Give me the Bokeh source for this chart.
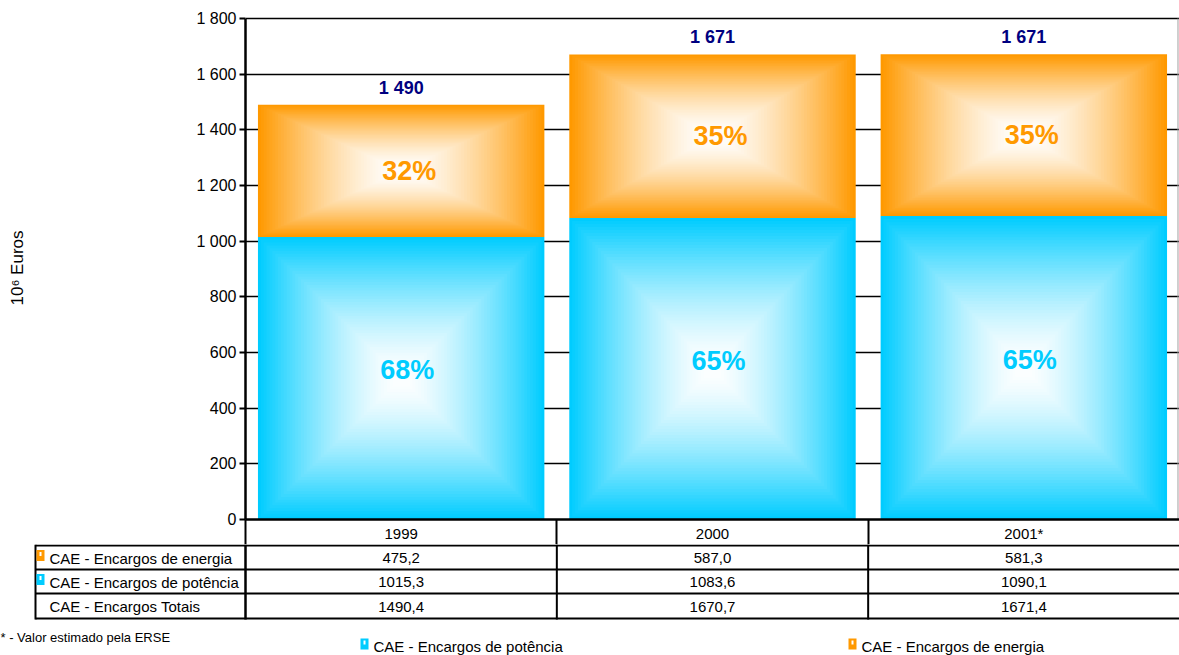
import numpy as np
from bokeh.plotting import figure
from bokeh.models import Range1d, FixedTicker, ColumnDataSource
from bokeh.core.properties import value
from bokeh.embed import file_html
from bokeh.resources import INLINE

# ---------------- data ----------------
years = ["1999", "2000", "2001*"]
energia = [475.2, 587.0, 581.3]
potencia = [1015.3, 1083.6, 1090.1]
totais = [1490.4, 1670.7, 1671.4]
y_ticks = [0, 200, 400, 600, 800, 1000, 1200, 1400, 1600, 1800]
row_labels = ["CAE - Encargos de energia", "CAE - Encargos de potência", "CAE - Encargos Totais"]
legend_labels = ["CAE - Encargos de potência", "CAE - Encargos de energia"]
footnote = "* - Valor estimado pela ERSE"
y_axis_title = "10\u2076 Euros"

# ---------------- style / geometry ----------------
W = 1179
H_MAIN = 544
H_TBL = 655 - H_MAIN
FL = 245                 # frame left (px)
Y0_PX, Y1800_PX = 519, 18
FT = 16
Y_END = 1800.0 * (Y0_PX - FT) / (Y0_PX - Y1800_PX)
HDR = H_MAIN - Y0_PX     # header-row height below the x axis

ORANGE = "#FF9900"
CYAN = "#00CCFF"
NAVY = "#000080"
FONT = "Liberation Sans"
BAR_W = 0.92
N_STEPS = 50

p = figure(width=W, height=H_MAIN,
           x_range=Range1d(0, 3), y_range=Range1d(0, Y_END),
           min_border_left=FL, min_border_right=0, min_border_top=FT,
           min_border_bottom=HDR,
           output_backend="svg", toolbar_location=None)
p.outline_line_color = None
p.background_fill_color = "white"
p.border_fill_color = "white"

# y axis
ay = p.yaxis[0]
ay.ticker = FixedTicker(ticks=y_ticks)
ay.major_label_overrides = {t: f"{t:,}".replace(",", " ") for t in y_ticks}
ay.bounds = (0, 1800)
ay.axis_line_width = 2.5
ay.axis_line_color = "black"
ay.major_tick_out = 6
ay.major_tick_in = 0
ay.major_tick_line_width = 2
ay.minor_tick_line_color = None
ay.major_label_text_font = FONT
ay.major_label_text_font_size = "16px"
ay.major_label_text_color = "black"
ay.major_label_standoff = 3
ay.axis_label = y_axis_title
ay.axis_label_text_font = FONT
ay.axis_label_text_font_style = "normal"
ay.axis_label_text_font_size = "17px"
ay.axis_label_text_color = "black"
ay.axis_label_standoff = 166

# x axis: year labels = table header row, minor ticks = column borders
ax = p.xaxis[0]
centers = [i + 0.5 for i in range(len(years))]
ax.ticker = FixedTicker(ticks=centers, minor_ticks=list(range(len(years))))
ax.major_label_overrides = {c: y for c, y in zip(centers, years)}
ax.axis_line_width = 2.5
ax.axis_line_color = "black"
ax.major_tick_line_color = None
ax.major_tick_out = 0
ax.major_tick_in = 0
ax.minor_tick_out = HDR
ax.minor_tick_in = 0
ax.minor_tick_line_width = 2
ax.minor_tick_line_color = "black"
ax.major_label_text_font = FONT
ax.major_label_text_font_size = "15px"
ax.major_label_text_color = "black"
ax.major_label_standoff = 5 - HDR

p.xgrid.grid_line_color = None
p.ygrid.ticker = FixedTicker(ticks=y_ticks)
p.ygrid.grid_line_color = "black"
p.ygrid.grid_line_width = 1.5


def hex2rgb(h):
    h = h.lstrip("#")
    return np.array([int(h[i:i + 2], 16) for i in (0, 2, 4)], dtype=float)


def blend(c, t):
    rgb = hex2rgb(c) * (1 - t) + np.array([255.0, 255.0, 255.0]) * t
    return "#%02x%02x%02x" % tuple(int(round(v)) for v in rgb)


# ---------------- gradient bars ----------------
L, R, B, T, C = [], [], [], [], []
segments = []
for i in range(len(years)):
    segments.append((centers[i], 0.0, potencia[i], CYAN))
    segments.append((centers[i], potencia[i], totais[i], ORANGE))
for xc, b, t, col in segments:
    yc = (b + t) / 2.0
    hh = (t - b) / 2.0
    hw = BAR_W / 2.0
    for k in range(N_STEPS):
        f = k / N_STEPS
        L.append(xc - hw * (1 - f))
        R.append(xc + hw * (1 - f))
        B.append(yc - hh * (1 - f))
        T.append(yc + hh * (1 - f))
        C.append(blend(col, min(0.985, 1 - (1 - f) ** 1.5)))
src = ColumnDataSource(dict(left=L, right=R, bottom=B, top=T, color=C))
p.quad(left="left", right="right", bottom="bottom", top="top", fill_color="color",
       line_color=None, source=src)

# grey right border of plot area
p.segment(x0=[3 - 1.5 / 311.0], y0=[0], x1=[3 - 1.5 / 311.0], y1=[1800],
          line_color="#a0a0a0", line_width=1)

# totals above bars
p.text(x=centers, y=totais, text=[f"{round(v):,}".replace(",", " ") for v in totais],
       text_align="center", text_baseline="bottom", y_offset=-7,
       text_font=value(FONT), text_font_style="bold", text_font_size="18px",
       text_color=NAVY)

# percentages
pct_pot = [f"{round(100 * a / t)}%" for a, t in zip(potencia, totais)]
pct_ene = [f"{round(100 * e / t)}%" for e, t in zip(energia, totais)]
p.text(x=centers, y=[v / 2.0 for v in potencia], text=pct_pot, text_align="center",
       text_baseline="middle", y_offset=-8, x_offset=6,
       text_font=value(FONT), text_font_style="bold", text_font_size="27px",
       text_color=CYAN)
p.text(x=centers, y=[(a + t) / 2.0 for a, t in zip(potencia, totais)], text=pct_ene,
       text_align="center", text_baseline="middle", x_offset=8,
       text_font=value(FONT), text_font_style="bold", text_font_size="27px",
       text_color=ORANGE)

# ---------------- table rows, legend, footnote (second figure, page px) ----------------
q = figure(width=W, height=H_TBL, x_range=Range1d(0, W), y_range=Range1d(655, H_MAIN),
           min_border=0, output_backend="svg", toolbar_location=None,
           x_axis_location=None, y_axis_location=None)
q.outline_line_color = None
q.grid.grid_line_color = None
q.background_fill_color = "white"
q.border_fill_color = "white"

TBL_LEFT = 35
rows_y = [H_MAIN + 1, 569, 593, 618]
col_w = (W - FL) / len(years)
col_x = [FL + col_w * i for i in range(len(years))]

q.segment(x0=[TBL_LEFT] * len(rows_y), y0=rows_y, x1=[W] * len(rows_y), y1=rows_y,
          line_color="black", line_width=2)
q.segment(x0=[TBL_LEFT], y0=[H_MAIN], x1=[TBL_LEFT], y1=[rows_y[-1] + 1],
          line_color="black", line_width=2)
q.segment(x0=[FL], y0=[H_MAIN], x1=[FL], y1=[rows_y[-1] + 1],
          line_color="black", line_width=2.5)
q.segment(x0=col_x[1:], y0=[H_MAIN] * (len(col_x) - 1), x1=col_x[1:],
          y1=[rows_y[-1] + 1] * (len(col_x) - 1), line_color="black", line_width=2)

fmt = lambda v: f"{v:.1f}".replace(".", ",")
row_vals = [energia, potencia, totais]
row_mid = [(rows_y[r] + rows_y[r + 1]) / 2.0 + 0.5 for r in range(3)]
tx, ty, tt = [], [], []
for r in range(3):
    for j in range(len(years)):
        tx.append(FL + col_w * (j + 0.5))
        ty.append(row_mid[r])
        tt.append(fmt(row_vals[r][j]))
q.text(x=tx, y=ty, text=tt, text_align="center", text_baseline="middle",
       text_font=value(FONT), text_font_size="15px", text_color="black")
q.text(x=[49] * 3, y=row_mid, text=row_labels, text_align="left", text_baseline="middle",
       text_font=value(FONT), text_font_size="15px", text_color="black")

# legend-key markers in the table
mk_c = [ORANGE, CYAN]
q.quad(left=[TBL_LEFT + 1] * 2, right=[TBL_LEFT + 9] * 2,
       top=[row_mid[r] - 8 for r in range(2)], bottom=[row_mid[r] + 3 for r in range(2)],
       fill_color=mk_c, line_color=None)
q.quad(left=[TBL_LEFT + 4] * 2, right=[TBL_LEFT + 6] * 2,
       top=[row_mid[r] - 6 for r in range(2)], bottom=[row_mid[r] - 2 for r in range(2)],
       fill_color="white", line_color=None)

# bottom legend
leg_x = [360, 848]
leg_c = [CYAN, ORANGE]
q.quad(left=leg_x, right=[x + 8 for x in leg_x], top=[638, 638], bottom=[649, 649],
       fill_color=leg_c, line_color=None)
q.quad(left=[x + 3 for x in leg_x], right=[x + 5 for x in leg_x], top=[640, 640],
       bottom=[644, 644], fill_color="white", line_color=None)
q.text(x=[x + 13 for x in leg_x], y=[646, 646], text=legend_labels, text_align="left",
       text_baseline="middle", text_font=value(FONT), text_font_size="15px",
       text_color="black")

# footnote
q.text(x=[0], y=[637], text=[footnote], text_align="left", text_baseline="middle",
       text_font=value(FONT), text_font_size="13px", text_color="black")

# two separate roots so the table figure keeps its own full-width frame
open("out.html", "w").write(file_html([p, q], INLINE))
